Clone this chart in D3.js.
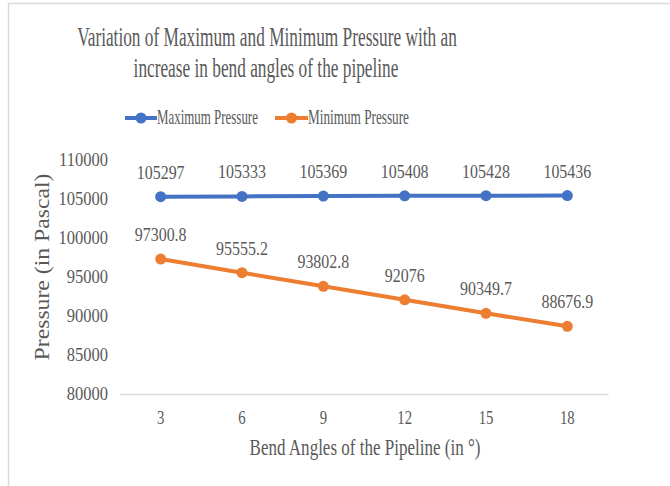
<!DOCTYPE html>
<html><head><meta charset="utf-8">
<script src="https://cdn.jsdelivr.net/npm/d3@7"></script>
<style>html,body{margin:0;padding:0;background:#fff;}svg{display:block;}</style>
</head><body>
<svg id="c" width="670" height="486"></svg>
<script>
const categories = ["3","6","9","12","15","18"];
const maxPressure = [105297,105333,105369,105408,105428,105436];
const minPressure = [97300.8,95555.2,93802.8,92076,90349.7,88676.9];
const maxLabels = ["105297","105333","105369","105408","105428","105436"];
const minLabels = ["97300.8","95555.2","93802.8","92076","90349.7","88676.9"];
const yTicks = [80000,85000,90000,95000,100000,105000,110000];
const titleLines = ["Variation of Maximum and Minimum Pressure with an","increase in bend angles of the pipeline"];
const seriesNames = ["Maximum Pressure","Minimum Pressure"];

const SX = 0.85;
const FONT = "Liberation Serif";
const TXT = "#595959";
const COLORS = ["#4472C4","#ED7D31"];

const svg = d3.select("#c");
svg.append("rect").attr("width",670).attr("height",486).attr("fill","#fff");
svg.append("path").attr("d","M8.5,486 V3.5 H670").attr("fill","none").attr("stroke","#d9d9d9").attr("stroke-width",1.5);

function txt(g, x, y, s, size, anchor, sx){
  return g.append("text")
    .attr("transform",`translate(${x},${y}) scale(${sx||SX},1)`)
    .attr("text-anchor",anchor||"middle")
    .attr("font-family",FONT).attr("font-size",size)
    .attr("fill",TXT).text(s);
}
// fit text to a target width (horizontal squeeze like the reference)
function fit(g, x, y, s, size, anchor, width){
  const t = g.append("text").attr("font-family",FONT).attr("font-size",size)
    .attr("text-anchor",anchor||"middle").attr("fill",TXT).text(s);
  const w = t.node().getComputedTextLength();
  t.attr("transform",`translate(${x},${y}) scale(${width/w},1)`);
  return t;
}

// title
fit(svg, 267, 46, titleLines[0], 27, "middle", 380);
fit(svg, 266, 77, titleLines[1], 27, "middle", 265);

const x = d3.scaleBand().domain(categories).range([120,608]);
const y = d3.scaleLinear().domain([80000,110000]).range([394,160]);

// y ticks
const gy = svg.append("g").attr("transform","translate(108,0)")
  .call(d3.axisLeft(y).tickValues(yTicks).tickSize(0));
gy.select(".domain").remove();
gy.selectAll("text").remove();
yTicks.forEach(v => txt(svg, 108, y(v)+6, String(v), 19, "end", 0.87));

// x axis
const gx = svg.append("g").attr("transform","translate(0,394)").call(d3.axisBottom(x).tickSize(0));
gx.select(".domain").attr("stroke","#d9d9d9").attr("stroke-width",1.5);
gx.selectAll("text").remove();
const cx = c => x(c)+x.bandwidth()/2;
categories.forEach(c => txt(svg, cx(c), 424, c, 18, "middle", 0.82));

// axis titles
fit(svg, 365, 455, "Bend Angles of the Pipeline (in °)", 23, "middle", 231);
const yt = svg.append("text").attr("font-family",FONT).attr("font-size",21)
  .attr("text-anchor","middle").attr("fill",TXT).text("Pressure (in Pascal)");
yt.attr("transform",`translate(49,267) rotate(-90) scale(${187/yt.node().getComputedTextLength()},1)`);

const line = d3.line().x((d,i)=>cx(categories[i])).y(d=>y(d));
[maxPressure,minPressure].forEach((data,k)=>{
  svg.append("path").datum(data).attr("d",line).attr("fill","none")
    .attr("stroke",COLORS[k]).attr("stroke-width",4).attr("stroke-linejoin","round");
  svg.selectAll(null).data(data).enter().append("circle")
    .attr("cx",(d,i)=>cx(categories[i])).attr("cy",d=>y(d)).attr("r",5.5).attr("fill",COLORS[k]);
  const labs = k===0?maxLabels:minLabels;
  data.forEach((d,i)=>txt(svg, cx(categories[i]), y(d)-18, labs[i], 19, "middle", 0.84));
});

// legend
const leg = [[125,157,seriesNames[0]],[275,308,seriesNames[1]]];
leg.forEach((l,k)=>{
  svg.append("line").attr("x1",l[0]).attr("x2",l[1]).attr("y1",118).attr("y2",118)
    .attr("stroke",COLORS[k]).attr("stroke-width",4);
  svg.append("circle").attr("cx",(l[0]+l[1])/2).attr("cy",118).attr("r",5.5).attr("fill",COLORS[k]);
  fit(svg, l[1], 124, l[2], 20, "start", 101);
});
</script>
</body></html>
